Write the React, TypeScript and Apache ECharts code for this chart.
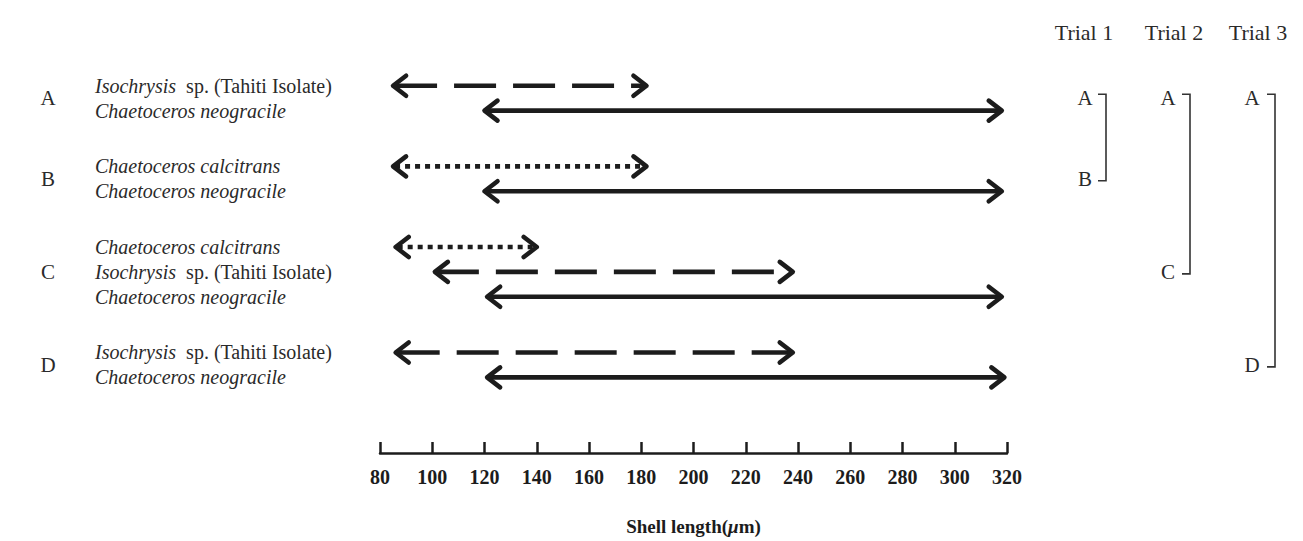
import React, { useEffect, useRef } from 'react';
import * as echarts from 'echarts';

// ---- data ----
const treatments = ['A', 'B', 'C', 'D'];
const rowTreatment = ['A', 'A', 'B', 'B', 'C', 'C', 'C', 'D', 'D'];
const rowSpecies = ['iso', 'neo', 'cal', 'neo', 'cal', 'iso', 'neo', 'iso', 'neo'];
const rangeStart = [85, 120, 85, 120, 86, 101, 121, 86, 121];
const rangeEnd = [182, 318, 182, 318, 140, 238, 318, 238, 319];
const xMin = 80;
const xMax = 320;
const xStep = 20;
const trialNames = ['Trial 1', 'Trial 2', 'Trial 3'];
const trialFrom = ['A', 'A', 'A'];
const trialTo = ['B', 'C', 'D'];
const axisTitle = 'Shell length({m|μ}m)';

const speciesLabel: Record<string, string> = {
  iso: '{i|Isochrysis}{n|  sp. (Tahiti Isolate)}',
  cal: '{i|Chaetoceros calcitrans}',
  neo: '{i|Chaetoceros neogracile}',
};
const speciesLine: Record<string, string> = { iso: 'dashed', cal: 'dotted', neo: 'solid' };

// ---- layout ----
const FONT = 'Liberation Serif';
const GROUP_GAP = 2.24;
const INK = '#1c1c1c';
const TEXT = '#2a2a2a';
const LABEL_X = 95;
const LETTER_X = 48;
const TRIAL_HEAD_X = [1084, 1174, 1258];
const TRIAL_LETTER_X = [1085, 1168, 1252];
const TRIAL_BAR_X = [1106, 1190, 1275];

const rowPos: number[] = [];
rowTreatment.forEach((t, i) => {
  if (i === 0) rowPos.push(0);
  else if (t !== rowTreatment[i - 1]) rowPos.push(rowPos[i - 1] + GROUP_GAP);
  else rowPos.push(rowPos[i - 1] + 1);
});
const groupCenter: Record<string, number> = {};
treatments.forEach((t) => {
  const ps = rowPos.filter((_, i) => rowTreatment[i] === t);
  groupCenter[t] = (ps[0] + ps[ps.length - 1]) / 2;
});

const richStyles = {
  i: { fontFamily: FONT, fontSize: 20, fontStyle: 'italic', fill: TEXT },
  n: { fontFamily: FONT, fontSize: 20, fill: TEXT },
};

export default function App() {
  const ref = useRef<HTMLDivElement>(null);
  useEffect(() => {
    document.body.style.margin = '0';
    const chart = echarts.init(ref.current!, null, { renderer: 'svg' });

    const arrowData = rowPos.map((p, i) => [rangeStart[i], rangeEnd[i], p, i]);
    const letterData = treatments.map((t, i) => [xMin, groupCenter[t], i]);
    const trialData = trialNames.map((_, i) => [xMin, groupCenter[trialFrom[i]], groupCenter[trialTo[i]], i]);

    chart.setOption({
      animation: false,
      backgroundColor: '#ffffff',
      textStyle: { fontFamily: FONT },
      grid: { left: 380, right: 296, top: 36, bottom: 86 },
      xAxis: {
        type: 'value',
        position: 'bottom',
        min: xMin,
        max: xMax,
        interval: xStep,
        splitLine: { show: false },
        axisLine: { show: true, onZero: false, lineStyle: { color: INK, width: 2.5 } },
        axisTick: { show: true, inside: true, length: 11, lineStyle: { color: INK, width: 2.5 } },
        axisLabel: {
          margin: 14,
          color: INK,
          fontFamily: FONT,
          fontWeight: 'bold',
          fontSize: 20,
        },
        name: axisTitle,
        nameLocation: 'middle',
        nameGap: 64,
        nameTextStyle: {
          color: INK,
          fontFamily: FONT,
          fontWeight: 'bold',
          fontSize: 19,
          rich: {
            m: { fontFamily: FONT, fontWeight: 'bold', fontStyle: 'italic', fontSize: 19, color: INK },
          },
        },
      },
      yAxis: {
        type: 'value',
        inverse: true,
        min: -2,
        max: 14.76,
        show: false,
      },
      series: [
        {
          type: 'custom',
          coordinateSystem: 'cartesian2d',
          clip: false,
          encode: { x: [0, 1], y: 2 },
          data: arrowData,
          renderItem: (params: any, api: any) => {
            const i = api.value(3);
            const sp = rowSpecies[i];
            const kind = speciesLine[sp];
            const p1 = api.coord([api.value(0), api.value(2)]);
            const p2 = api.coord([api.value(1), api.value(2)]);
            const y = p1[1];
            const lw = 4.6;
            const dash = kind === 'dashed' ? [42, 17] : kind === 'dotted' ? [5, 5] : null;
            const headW = 13;
            const headH = 10;
            return {
              type: 'group',
              children: [
                {
                  type: 'line',
                  shape: { x1: p1[0] + 2, y1: y, x2: p2[0] - 2, y2: y },
                  style: { stroke: INK, lineWidth: lw, lineDash: dash, lineCap: 'butt', fill: null },
                },
                {
                  type: 'polyline',
                  shape: { points: [[p1[0] + headW, y - headH], [p1[0], y], [p1[0] + headW, y + headH]] },
                  style: { stroke: INK, lineWidth: lw, lineCap: 'round', lineJoin: 'round', fill: null },
                },
                {
                  type: 'polyline',
                  shape: { points: [[p2[0] - headW, y - headH], [p2[0], y], [p2[0] - headW, y + headH]] },
                  style: { stroke: INK, lineWidth: lw, lineCap: 'round', lineJoin: 'round', fill: null },
                },
                {
                  type: 'text',
                  style: {
                    x: LABEL_X,
                    y: y,
                    text: speciesLabel[sp],
                    verticalAlign: 'middle',
                    align: 'left',
                    rich: richStyles,
                    fontFamily: FONT,
                    fontSize: 20,
                    fill: TEXT,
                  },
                },
              ],
            };
          },
        },
        {
          type: 'custom',
          coordinateSystem: 'cartesian2d',
          clip: false,
          encode: { x: 0, y: 1 },
          data: letterData,
          renderItem: (params: any, api: any) => {
            const i = api.value(2);
            const p = api.coord([api.value(0), api.value(1)]);
            return {
              type: 'text',
              style: {
                x: LETTER_X,
                y: p[1],
                text: treatments[i],
                align: 'center',
                verticalAlign: 'middle',
                fontFamily: FONT,
                fontSize: 21,
                fill: TEXT,
              },
            };
          },
        },
        {
          type: 'custom',
          coordinateSystem: 'cartesian2d',
          clip: false,
          encode: { x: 0, y: [1, 2] },
          data: trialData,
          renderItem: (params: any, api: any) => {
            const i = api.value(3);
            const yTop = api.coord([api.value(0), api.value(1)])[1];
            const yBot = api.coord([api.value(0), api.value(2)])[1];
            const lx = TRIAL_LETTER_X[i];
            const bx = TRIAL_BAR_X[i];
            const st = { stroke: '#333', lineWidth: 1.6, fill: null };
            return {
              type: 'group',
              children: [
                {
                  type: 'text',
                  style: { x: TRIAL_HEAD_X[i], y: 32, text: trialNames[i], align: 'center', verticalAlign: 'middle', fontFamily: FONT, fontSize: 22, fill: TEXT },
                },
                {
                  type: 'text',
                  style: { x: lx, y: yTop, text: trialFrom[i], align: 'center', verticalAlign: 'middle', fontFamily: FONT, fontSize: 21, fill: TEXT },
                },
                {
                  type: 'text',
                  style: { x: lx, y: yBot, text: trialTo[i], align: 'center', verticalAlign: 'middle', fontFamily: FONT, fontSize: 21, fill: TEXT },
                },
                {
                  type: 'polyline',
                  shape: { points: [[bx - 8, yTop - 4], [bx, yTop - 4], [bx, yBot + 2], [bx - 8, yBot + 2]] },
                  style: st,
                },
              ],
            };
          },
        },
      ],
    });
    return () => chart.dispose();
  }, []);
  return <div ref={ref} style={{ width: 1303, height: 541 }} />;
}
